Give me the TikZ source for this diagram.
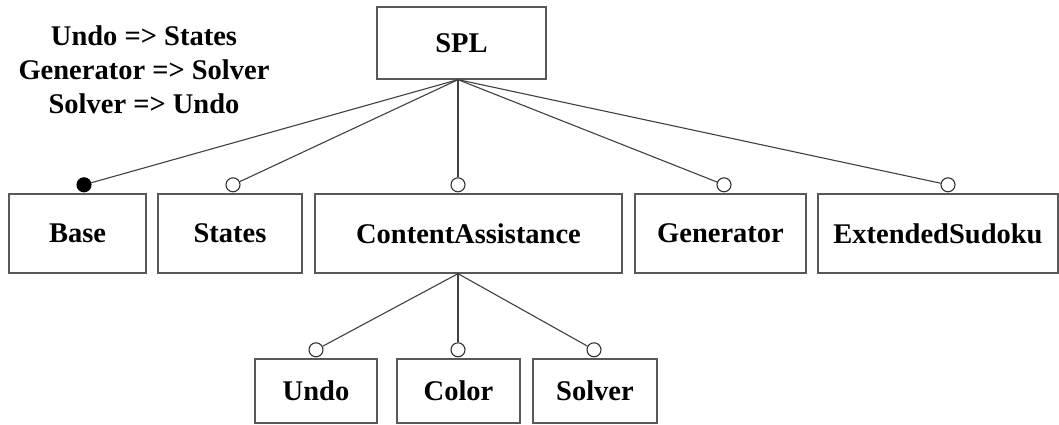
\documentclass[tikz,border=0pt]{standalone}
\usepackage{fontspec}
\setmainfont{Liberation Serif}
\begin{document}
\begin{tikzpicture}[x=1pt,y=-1pt,
  box/.style={draw=black!65,line width=1.3pt,rectangle,inner sep=0pt,
    font=\fontsize{28.5}{34}\selectfont\bfseries},
  oc/.style={circle,draw=black!80,fill=white,line width=1.1pt,minimum size=14pt,inner sep=0pt,anchor=south},
  fc/.style={oc,fill=black,draw=black},
  link/.style={draw=black!75,line width=1.1pt}]
\useasboundingbox (0,0) rectangle (1059,424);
\node[font=\fontsize{28.5}{34}\selectfont\bfseries,align=center] (cons) at (144,70)
  {Undo => States\\Generator => Solver\\Solver => Undo};
\node[box,minimum width=169pt,minimum height=72pt] (spl) at (461.5,43) {SPL};
\node[box,minimum width=137pt,minimum height=79pt] (base) at (77.5,233.5) {Base};
\node[box,minimum width=144pt,minimum height=79pt] (states) at (230,233.5) {States};
\node[box,minimum width=307pt,minimum height=79pt] (ca) at (468.5,233.5) {ContentAssistance};
\node[box,minimum width=171pt,minimum height=79pt] (gen) at (720.5,233.5) {Generator};
\node[box,minimum width=240pt,minimum height=79pt] (es) at (938,233.5) {ExtendedSudoku};
\node[box,minimum width=122pt,minimum height=64pt] (undo) at (316,391) {Undo};
\node[box,minimum width=123pt,minimum height=64pt] (color) at (458.5,391) {Color};
\node[box,minimum width=124pt,minimum height=64pt] (solver) at (595,391) {Solver};
\coordinate (splroot) at ([xshift=-3.5pt]spl.south);
\coordinate (caroot) at ([xshift=-10.5pt]ca.south);
\node[fc] (cbase) at ([xshift=6.5pt,yshift=1pt]base.north) {};
\node[oc] (cstates) at ([xshift=3pt,yshift=1pt]states.north) {};
\node[oc] (cca) at ([xshift=-10.5pt,yshift=1pt]ca.north) {};
\node[oc] (cgen) at ([xshift=3.5pt,yshift=1pt]gen.north) {};
\node[oc] (ces) at ([xshift=10pt,yshift=1pt]es.north) {};
\node[oc] (cundo) at ([yshift=1pt]undo.north) {};
\node[oc] (ccolor) at ([xshift=-0.5pt,yshift=1pt]color.north) {};
\node[oc] (csolver) at ([xshift=-1pt,yshift=1pt]solver.north) {};
\draw[link] (splroot) -- (cbase);
\draw[link] (splroot) -- (cstates);
\draw[link] (splroot) -- (cca);
\draw[link] (splroot) -- (cgen);
\draw[link] (splroot) -- (ces);
\draw[link] (caroot) -- (cundo);
\draw[link] (caroot) -- (ccolor);
\draw[link] (caroot) -- (csolver);
\end{tikzpicture}
\end{document}
